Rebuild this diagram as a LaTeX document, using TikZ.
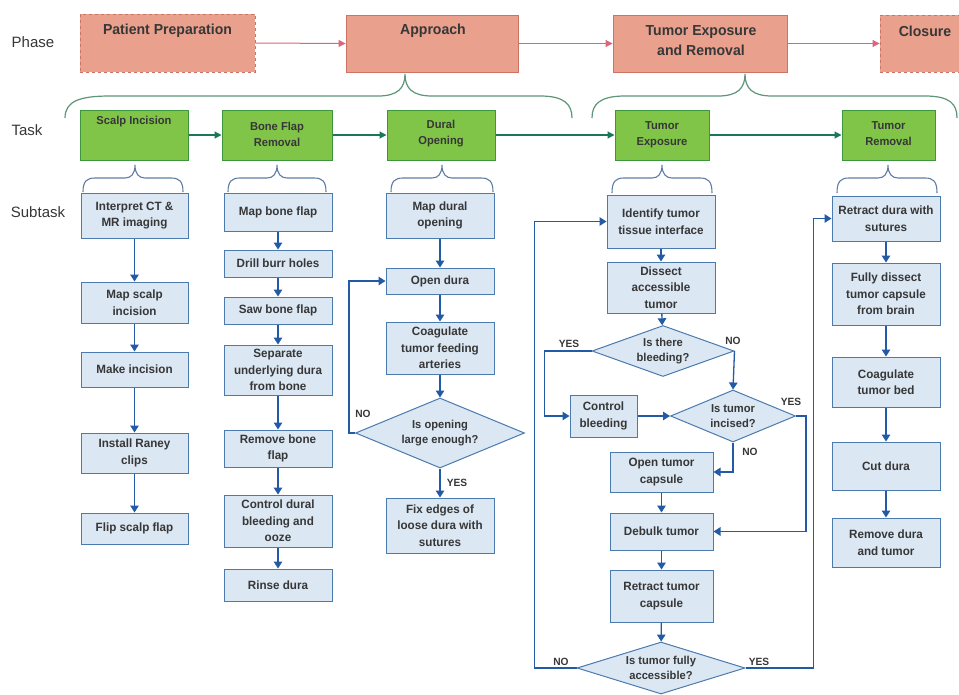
\documentclass[tikz,border=0pt]{standalone}
\usepackage{fontspec}
\setmainfont{Liberation Sans}
\newfontfamily\boxf[FakeStretch=0.97]{Liberation Sans Bold}
\newfontfamily\lblf{Liberation Sans}
\usetikzlibrary{shapes.geometric,arrows.meta}
\definecolor{phfill}{RGB}{233,160,140}
\definecolor{phdraw}{RGB}{205,115,100}
\definecolor{pharr}{RGB}{222,100,125}
\definecolor{tkfill}{RGB}{128,196,72}
\definecolor{tkdraw}{RGB}{62,150,60}
\definecolor{tkarr}{RGB}{25,120,90}
\definecolor{gbrace}{RGB}{95,150,120}
\definecolor{sbfill}{RGB}{219,231,243}
\definecolor{sbdraw}{RGB}{75,122,175}
\definecolor{sbarr}{RGB}{35,90,165}
\definecolor{bbrace}{RGB}{95,125,165}
\definecolor{txt}{RGB}{55,55,55}
\newcommand{\sbrace}[4]{%
\draw[bbr] (#1,#4) .. controls (#1,181) and (#1+4,178) .. (#1+12,178) -- (#2-10,178) .. controls (#2-4,178) and (#2,174) .. (#2,165) .. controls (#2,174) and (#2+4,178) .. (#2+10,178) -- (#3-12,178) .. controls (#3-4,178) and (#3,181) .. (#3,#4);}
\begin{document}
\begin{tikzpicture}[x=1pt,y=-1pt,
  phase/.style={draw=phdraw,fill=phfill,line width=0.9pt,inner sep=0},
  phdash/.style={phase,dashed},
  phtext/.style={font=\boxf\fontsize{14.5}{20}\selectfont,text=txt,align=center,inner sep=0},
  task/.style={draw=tkdraw,fill=tkfill,line width=1pt,inner sep=0},
  tktext/.style={font=\boxf\fontsize{11.5}{16}\selectfont,text=txt,align=center,inner sep=0},
  sub/.style={draw=sbdraw,fill=sbfill,line width=1pt,inner sep=1pt,align=center,
     font=\boxf\fontsize{12}{16.5}\selectfont,text=txt},
  dia/.style={diamond,draw=sbdraw,fill=sbfill,line width=1pt,inner sep=0,align=center,
     font=\boxf\fontsize{11.5}{15.5}\selectfont,text=txt},
  lbl/.style={font=\lblf\fontsize{15}{18}\selectfont,text=txt,inner sep=0},
  yn/.style={font=\boxf\fontsize{10.5}{12}\selectfont,text=txt,inner sep=0},
  parr/.style={draw=pharr,line width=1pt,-{Triangle[length=7pt,width=7pt]}},
  tarr/.style={draw=tkarr,line width=1.2pt,-{Triangle[length=7pt,width=7pt]}},
  arr/.style={draw=sbarr,line width=1.3pt,-{Triangle[length=7pt,width=8.5pt]}},
  gbr/.style={draw=gbrace,line width=1.2pt},
  bbr/.style={draw=bbrace,line width=1.1pt}]
\useasboundingbox (0,0) rectangle (959,694);
\fill[white] (0,0) rectangle (959,694);

% row labels
\node[lbl] (lphase) at (33,42) {Phase};
\node[lbl] (ltask) at (27,130) {Task};
\node[lbl] (lsub) at (38,212) {Subtask};

% phases
\node[phdash,minimum width=175,minimum height=58] (pp) at (167.5,43) {};
\node[phtext] (ppt) at (167.5,31) {Patient Preparation};
\node[phase,minimum width=172,minimum height=57] (ap) at (432,43.5) {};
\node[phtext] (apt) at (433,31) {Approach};
\node[phase,minimum width=174,minimum height=57] (te) at (700,43.5) {};
\node[phtext] (tet) at (701,41) {Tumor Exposure\\and Removal};
\node[phdash,minimum width=90,minimum height=57] (cl) at (925,43.5) {};
\node[phtext] (clt) at (925,31) {Closure};
\draw[parr] (pp.east) -- (ap.west);
\draw[parr] (ap.east) -- (te.west);
\draw[parr] (te.east) -- (cl.west);

% green braces
\draw[gbr] (65,118) .. controls (65,101) and (80,96) .. (110,96) -- (378,96) .. controls (398,96) and (405,88) .. (405,74) .. controls (405,88) and (412,96) .. (432,96) -- (540,96) .. controls (564,96) and (572,104) .. (572,118);
\draw[gbr] (592,118) .. controls (592,104) and (600,96) .. (625,96) -- (718,96) .. controls (738,96) and (745,88) .. (745,74) .. controls (745,88) and (752,96) .. (772,96) -- (925,96) .. controls (950,96) and (957,104) .. (957,118);

% tasks
\node[task,minimum width=108,minimum height=50] (t1) at (134,135) {};
\node[tktext] (t1t) at (134,122) {Scalp Incision};
\node[task,minimum width=110,minimum height=50] (t2) at (277,135) {};
\node[tktext] (t2t) at (277,134) {Bone Flap\\Removal};
\node[task,minimum width=108,minimum height=50] (t3) at (441,135) {};
\node[tktext] (t3t) at (441,134) {Dural\\Opening};
\node[task,minimum width=94,minimum height=50] (t4) at (662,135) {};
\node[tktext] (t4t) at (662,135) {Tumor\\Exposure};
\node[task,minimum width=93,minimum height=50] (t5) at (888.5,135) {};
\node[tktext] (t5t) at (888.5,134) {Tumor\\Removal};
\draw[tarr] (t1.east) -- (t2.west);
\draw[tarr] (t2.east) -- (t3.west);
\draw[tarr] (t3.east) -- (t4.west);
\draw[tarr] (t4.east) -- (t5.west);

% small braces
\sbrace{83}{135}{183}{192}
\sbrace{228}{277}{326}{192}
\sbrace{391}{442}{493}{192}
\sbrace{612}{662}{712}{193}
\sbrace{837}{888}{937}{193}

% column 1
\node[sub,minimum width=107,minimum height=45] (a1) at (134.5,215.5) {Interpret CT \&\\MR imaging};
\node[sub,minimum width=107,minimum height=41] (a2) at (134.5,302.5) {Map scalp\\incision};
\node[sub,minimum width=107,minimum height=35] (a3) at (134.5,369.5) {Make incision};
\node[sub,minimum width=107,minimum height=40] (a4) at (134.5,453) {Install Raney\\clips};
\node[sub,minimum width=107,minimum height=31] (a5) at (134.5,528.5) {Flip scalp flap};
\draw[arr] (a1) -- (a2);
\draw[arr] (a2) -- (a3);
\draw[arr] (a3) -- (a4);
\draw[arr] (a4) -- (a5);

% column 2
\node[sub,minimum width=108,minimum height=38] (b1) at (278,212) {Map bone flap};
\node[sub,minimum width=108,minimum height=27] (b2) at (278,263.5) {Drill burr holes};
\node[sub,minimum width=108,minimum height=27] (b3) at (278,310.5) {Saw bone flap};
\node[sub,minimum width=108,minimum height=50,inner ysep=0] (b4) at (278,370) {Separate\\underlying dura\\from bone};
\node[sub,minimum width=108,minimum height=37,inner ysep=0] (b5) at (278,448.5) {Remove bone\\flap};
\node[sub,minimum width=108,minimum height=52,inner ysep=0] (b6) at (278,521) {Control dural\\bleeding and\\ooze};
\node[sub,minimum width=108,minimum height=32] (b7) at (278,585) {Rinse dura};
\draw[arr] (b1) -- (b2);
\draw[arr] (b2) -- (b3);
\draw[arr] (b3) -- (b4);
\draw[arr] (b4) -- (b5);
\draw[arr] (b5) -- (b6);
\draw[arr] (b6) -- (b7);

% column 3
\node[sub,minimum width=108,minimum height=45] (c1) at (440,215.5) {Map dural\\opening};
\node[sub,minimum width=108,minimum height=26] (c2) at (440,281) {Open dura};
\node[sub,minimum width=108,minimum height=52,inner ysep=0] (c3) at (440,348) {Coagulate\\tumor feeding\\arteries};
\node[dia,aspect=2.4,minimum width=169,minimum height=70] (cd) at (440,433) {Is opening\\large enough?};
\node[sub,minimum width=108,minimum height=55,inner ysep=0] (c4) at (440,525.5) {Fix edges of\\loose dura with\\sutures};
\draw[arr] (c1) -- (c2);
\draw[arr] (c2) -- (c3);
\draw[arr] (c3) -- (cd);
\draw[arr] (cd) -- (c4);
\draw[arr] (cd.west) -- ++(-6,0) |- (c2.west);
\node[yn] (cno) at (363,414) {NO};
\node[yn] (cyes) at (457,483) {YES};

% column 4
\node[sub,minimum width=108,minimum height=53] (e1) at (661,221.5) {Identify tumor\\tissue interface};
\node[sub,minimum width=108,minimum height=51,inner ysep=0] (e2) at (661,287.5) {Dissect\\accessible\\tumor};
\node[dia,aspect=2.8,minimum width=142,minimum height=51] (ed1) at (663,351) {Is there\\bleeding?};
\node[sub,minimum width=67,minimum height=42] (ecb) at (603.5,416) {Control\\bleeding};
\node[dia,aspect=2.4,minimum width=125,minimum height=52] (ed2) at (733,416) {Is tumor\\incised?};
\node[sub,minimum width=103,minimum height=40] (e3) at (661.5,472) {Open tumor\\capsule};
\node[sub,minimum width=103,minimum height=37] (e4) at (661.5,531.5) {Debulk tumor};
\node[sub,minimum width=103,minimum height=52] (e5) at (661.5,596) {Retract tumor\\capsule};
\node[dia,aspect=3.2,minimum width=168,minimum height=52] (ed3) at (661,668) {Is tumor fully\\accessible?};
\draw[arr] (e1) -- (e2);
\draw[arr] (e2) -- (ed1);
\draw[arr] (ed1.west) -- ++(-47,0) |- (ecb.west);
\draw[arr] (ed1.east) -- (ed2.north);
\draw[arr] (ecb.east) -- (ed2.west);
\draw[arr] (ed2.east) -- ++(10,0) |- (e4.east);
\draw[arr] (ed2.south) |- (e3.east);
\draw[arr] (e3) -- (e4);
\draw[arr] (e4) -- (e5);
\draw[arr] (e5) -- (ed3);
\draw[arr] (ed3.west) -- ++(-42,0) |- (e1.west);
\node[yn] (eyes1) at (569,344) {YES};
\node[yn] (eno1) at (733,341) {NO};
\node[yn] (eyes2) at (791,402) {YES};
\node[yn] (eno2) at (750,452) {NO};
\node[yn] (eno3) at (561,662) {NO};
\node[yn] (eyes3) at (759,662) {YES};

% column 5
\node[sub,minimum width=108,minimum height=45] (f1) at (886,218.5) {Retract dura with\\sutures};
\node[sub,minimum width=108,minimum height=62] (f2) at (886,294) {Fully dissect\\tumor capsule\\from brain};
\node[sub,minimum width=108,minimum height=50] (f3) at (886,382) {Coagulate\\tumor bed};
\node[sub,minimum width=108,minimum height=48] (f4) at (886,466) {Cut dura};
\node[sub,minimum width=108,minimum height=49] (f5) at (886,542.5) {Remove dura\\and tumor};
\draw[arr] (ed3.east) -- ++(68,0) |- (f1.west);
\draw[arr] (f1) -- (f2);
\draw[arr] (f2) -- (f3);
\draw[arr] (f3) -- (f4);
\draw[arr] (f4) -- (f5);
\end{tikzpicture}
\end{document}
